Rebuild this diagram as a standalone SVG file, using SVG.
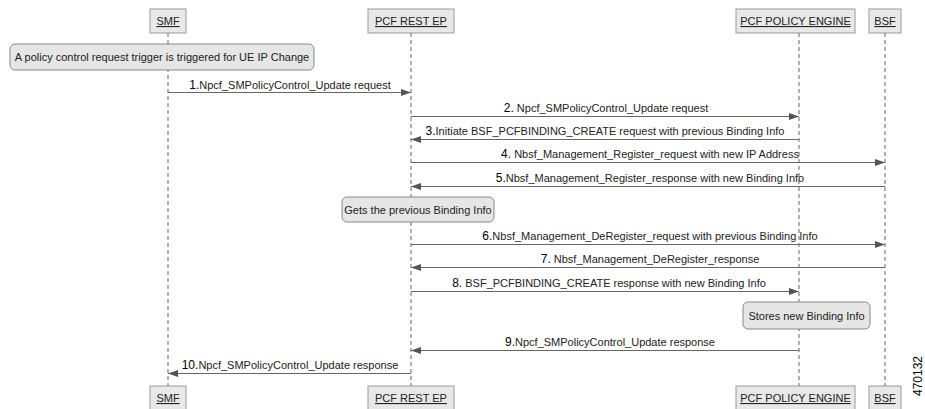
<svg xmlns="http://www.w3.org/2000/svg" width="925" height="409" viewBox="0 0 925 409">
<defs>
<style>
text{font-family:"Liberation Sans",Arial,sans-serif;font-size:11px;fill:#222}
.hdr rect{fill:#e8e8e8;stroke:#999;stroke-width:1}
.hdr text{text-anchor:middle;text-decoration:underline}
.life{stroke:#666;stroke-width:1;stroke-dasharray:4,3;fill:none}
.msg line{stroke:#666;stroke-width:1;marker-end:url(#ah)}
.msg text{text-anchor:middle}
.num{font-size:12px;fill:#000}
.note rect{fill:#e6e6e6;stroke:#888;stroke-width:1}
.note text{text-anchor:middle}
</style>
<marker id="ah" markerWidth="10" markerHeight="8" refX="10" refY="4" orient="auto" markerUnits="userSpaceOnUse">
<path d="M0,0.5 L10,4 L0,7.5 z" fill="#555"/>
</marker>
</defs>
<rect width="925" height="409" fill="#fff"/>
<g id="lifelines">
<line class="life" x1="168" y1="33" x2="168" y2="386"/>
<line class="life" x1="411" y1="33" x2="411" y2="386"/>
<line class="life" x1="799" y1="33" x2="799" y2="386"/>
<line class="life" x1="885" y1="33" x2="885" y2="386"/>
</g>
<g id="smf" class="hdr">
<rect x="150" y="9" width="36" height="24"/><text x="168" y="25">SMF</text>
<rect x="150" y="386" width="36" height="24"/><text x="168" y="402">SMF</text>
</g>
<g id="pcf-rest-ep" class="hdr">
<rect x="368" y="9" width="86" height="24"/><text x="411" y="25">PCF REST EP</text>
<rect x="368" y="386" width="86" height="24"/><text x="411" y="402">PCF REST EP</text>
</g>
<g id="pcf-policy-engine" class="hdr">
<rect x="736" y="9" width="119" height="24"/><text x="795.5" y="25">PCF POLICY ENGINE</text>
<rect x="736" y="386" width="119" height="24"/><text x="795.5" y="402">PCF POLICY ENGINE</text>
</g>
<g id="bsf" class="hdr">
<rect x="869" y="9" width="32" height="24"/><text x="885" y="25">BSF</text>
<rect x="869" y="386" width="32" height="24"/><text x="885" y="402">BSF</text>
</g>
<g id="note-trigger" class="note">
<rect x="10" y="44" width="304" height="26" rx="5"/><text x="162" y="61">A policy control request trigger is triggered for UE IP Change</text>
</g>
<g id="note-gets" class="note">
<rect x="342" y="197" width="152" height="25" rx="5"/><text x="418" y="214">Gets the previous Binding Info</text>
</g>
<g id="note-stores" class="note">
<rect x="743" y="302" width="127" height="27" rx="5"/><text x="806.5" y="320">Stores new Binding Info</text>
</g>
<g id="connectors" class="msg">
<line x1="168" y1="92.5" x2="411" y2="92.5"/>
<text x="290" y="89"><tspan class="num">1.</tspan>Npcf_SMPolicyControl_Update request</text>
<line x1="411" y1="116.5" x2="799" y2="116.5"/>
<text x="606" y="112"><tspan class="num">2.</tspan> Npcf_SMPolicyControl_Update request</text>
<line x1="799" y1="139.5" x2="411" y2="139.5"/>
<text x="605" y="135"><tspan class="num">3.</tspan>Initiate BSF_PCFBINDING_CREATE request with previous Binding Info</text>
<line x1="411" y1="162.5" x2="885" y2="162.5"/>
<text x="650" y="158"><tspan class="num">4.</tspan> Nbsf_Management_Register_request with new IP Address</text>
<line x1="885" y1="186.5" x2="411" y2="186.5"/>
<text x="650" y="182"><tspan class="num">5.</tspan>Nbsf_Management_Register_response with new Binding Info</text>
<line x1="411" y1="244.5" x2="885" y2="244.5"/>
<text x="650" y="240"><tspan class="num">6.</tspan>Nbsf_Management_DeRegister_request with previous Binding Info</text>
<line x1="885" y1="267.5" x2="411" y2="267.5"/>
<text x="650" y="263"><tspan class="num">7.</tspan> Nbsf_Management_DeRegister_response</text>
<line x1="411" y1="291.5" x2="799" y2="291.5"/>
<text x="609" y="287"><tspan class="num">8.</tspan> BSF_PCFBINDING_CREATE response with new Binding Info</text>
<line x1="799" y1="350.5" x2="411" y2="350.5"/>
<text x="610" y="346"><tspan class="num">9.</tspan>Npcf_SMPolicyControl_Update response</text>
<line x1="411" y1="373.5" x2="168" y2="373.5"/>
<text x="290" y="369"><tspan class="num">10.</tspan>Npcf_SMPolicyControl_Update response</text>
</g>
<text x="0" y="0" transform="translate(922,396) rotate(-90)" style="font-size:12px;fill:#000">470132</text>
</svg>
